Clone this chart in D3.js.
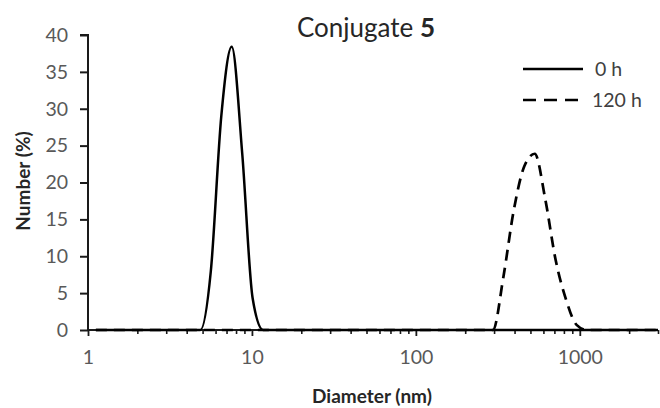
<!DOCTYPE html>
<html>
<head>
<meta charset="utf-8">
<script src="https://cdn.jsdelivr.net/npm/d3@7"></script>
<style>
  html, body { margin: 0; padding: 0; background: #fff; }
  svg { display: block; font-family: Lato, "Open Sans", sans-serif; }
</style>
</head>
<body>
<svg id="chart" width="660" height="408"></svg>
<script>
// ---- data ----
const diameters = [1.117, 1.294, 1.499, 1.736, 2.01, 2.328, 2.696, 3.122, 3.615, 4.187, 4.849,
  5.615, 6.503, 7.531, 8.721, 10.1, 11.7, 13.54, 15.69, 18.17, 21.04, 24.36, 28.21, 32.67,
  37.84, 43.82, 50.75, 58.77, 68.06, 78.82, 91.28, 105.7, 122.4, 141.8, 164.2, 190.1, 220.2,
  255, 295.3, 342, 396.1, 458.7, 531.2, 615.1, 712.4, 825, 955.4, 1106, 1281, 1484, 1718,
  1990, 2305, 2669, 3000];
const number0h = [0, 0, 0, 0, 0, 0, 0, 0, 0, 0, 0,
  8.0, 29.0, 38.4, 24.0, 4.3, 0, 0, 0, 0, 0, 0, 0, 0,
  0, 0, 0, 0, 0, 0, 0, 0, 0, 0, 0, 0, 0,
  0, 0, 0, 0, 0, 0, 0, 0, 0, 0, 0, 0, 0, 0,
  0, 0, 0, 0];
const number120h = [0, 0, 0, 0, 0, 0, 0, 0, 0, 0, 0,
  0, 0, 0, 0, 0, 0, 0, 0, 0, 0, 0, 0, 0,
  0, 0, 0, 0, 0, 0, 0, 0, 0, 0, 0, 0, 0,
  0, 0, 7.2, 16.3, 22.2, 23.9, 17.8, 9.5, 4.1, 0.7, 0, 0, 0, 0,
  0, 0, 0, 0];
const seriesNames = ["0 h", "120 h"];
const yTicks = [0, 5, 10, 15, 20, 25, 30, 35, 40];
const xMajorTicks = [1, 10, 100, 1000];
const xMinorTicks = [2,3,4,5,6,7,8,9,20,30,40,50,60,70,80,90,200,300,400,500,600,700,800,900,2000,3000];
const titleText = "Conjugate ";
const titleBold = "5";
const xTitle = "Diameter (nm)";
const yTitle = "Number (%)";

// ---- layout ----
const svg = d3.select("#chart");
const x = d3.scaleLog().domain([1, 3000]).range([88, 658]);
const y = d3.scaleLinear().domain([0, 40]).range([330, 35]);
const tickColor = "#595959";
const axisColor = "#1a1a1a";

// y axis
const yAxis = svg.append("g").attr("transform", `translate(${x.range()[0]},0)`)
  .call(d3.axisLeft(y).tickValues(yTicks).tickSize(8).tickPadding(12).tickFormat(d3.format("d")));
yAxis.select(".domain").attr("stroke", axisColor).attr("stroke-width", 2).attr("d", `M-8,${y(40)}H0V${y(0)}`);
yAxis.selectAll(".tick line").attr("stroke", axisColor).attr("stroke-width", 2);
yAxis.selectAll(".tick text").attr("fill", tickColor).style("font-size", "19.5px").style("font-family", "Lato");

// x axis minor ticks
const xMinor = svg.append("g").attr("transform", `translate(0,${y(0)})`)
  .call(d3.axisBottom(x).tickValues(xMinorTicks).tickSize(4).tickFormat(""));
xMinor.select(".domain").remove();
xMinor.selectAll(".tick line").attr("stroke", axisColor).attr("stroke-width", 1.6);

// x axis major
const xAxis = svg.append("g").attr("transform", `translate(0,${y(0)})`)
  .call(d3.axisBottom(x).tickValues(xMajorTicks).tickSize(6).tickPadding(14).tickFormat(d3.format("d")));
xAxis.select(".domain").attr("stroke", axisColor).attr("stroke-width", 2).attr("d", `M${x.range()[0]},0H${x.range()[1]}`);
xAxis.selectAll(".tick line").attr("stroke", axisColor).attr("stroke-width", 1.8);
xAxis.selectAll(".tick text").attr("fill", tickColor).style("font-size", "19.5px").style("font-family", "Lato");

// series
const line = d3.line()
  .x(d => x(d[0]))
  .y(d => y(d[1]))
  .curve(d3.curveMonotoneX);

const s0 = diameters.map((d, i) => [d, number0h[i]]);
const s1 = diameters.map((d, i) => [d, number120h[i]]);

svg.append("path").datum(s0).attr("d", line)
  .attr("fill", "none").attr("stroke", "#000").attr("stroke-width", 2.5);
svg.append("path").datum(s1).attr("d", line)
  .attr("fill", "none").attr("stroke", "#000").attr("stroke-width", 2.7)
  .attr("stroke-dasharray", "11,7");

// legend
const legend = svg.append("g");
const legendRows = [
  { name: seriesNames[0], dash: null, yy: 69 },
  { name: seriesNames[1], dash: "13,8", yy: 100 }
];
legendRows.forEach(r => {
  legend.append("line").attr("x1", 523).attr("x2", 583).attr("y1", r.yy).attr("y2", r.yy)
    .attr("stroke", "#000").attr("stroke-width", 2.7)
    .attr("stroke-dasharray", r.dash);
  legend.append("text").attr("x", r.name.length > 3 ? 592 : 595).attr("y", r.yy)
    .attr("dy", "0.35em").attr("fill", "#404040")
    .style("font-size", "19.5px").text(r.name);
});

// title
const title = svg.append("text").attr("x", 366).attr("y", 37).attr("text-anchor", "middle")
  .attr("fill", "#262626").style("font-size", "26px");
title.append("tspan").text(titleText);
title.append("tspan").attr("font-weight", "bold").text(titleBold);

// axis titles
svg.append("text").attr("x", 372).attr("y", 403).attr("text-anchor", "middle")
  .attr("fill", "#262626").attr("font-weight", "bold").style("font-size", "19px").text(xTitle);
svg.append("text").attr("transform", "translate(30,181) rotate(-90)").attr("text-anchor", "middle")
  .attr("fill", "#262626").attr("font-weight", "bold").style("font-size", "19px").text(yTitle);
</script>
</body>
</html>
